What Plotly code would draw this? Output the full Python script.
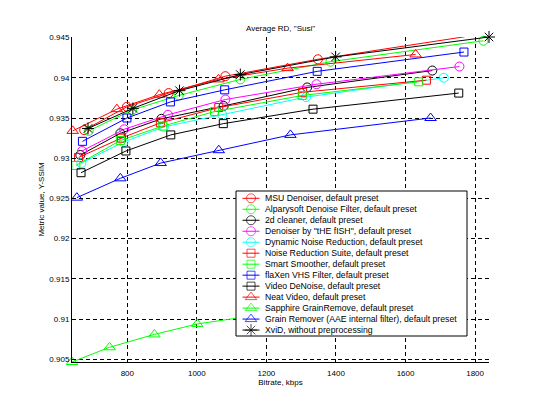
import plotly.graph_objects as go

# ---------------- data ----------------
msu_x = [676, 799, 919, 1082, 1348, 1770]
msu_y = [0.9335, 0.9364, 0.9381, 0.9402, 0.9423, 0.9451]

alpary_x = [689, 814, 948, 1125, 1384, 1824]
alpary_y = [0.9334, 0.9360, 0.9378, 0.9398, 0.9420, 0.9446]

cleaner2d_x = [665, 780, 898, 1077, 1317, 1677]
cleaner2d_y = [0.9304, 0.9331, 0.9349, 0.9365, 0.9388, 0.9409]

fish_x = [670, 791, 917, 1082, 1344, 1755]
fish_y = [0.9309, 0.9336, 0.9354, 0.9373, 0.9392, 0.9414]

dynamic_x = [668, 789, 905, 1073, 1314, 1710]
dynamic_y = [0.9294, 0.9320, 0.9339, 0.9354, 0.9376, 0.9400]

nrs_x = [660, 783, 895, 1063, 1304, 1660]
nrs_y = [0.9301, 0.9325, 0.9344, 0.9363, 0.9382, 0.9397]

smart_x = [652, 780, 902, 1051, 1303, 1638]
smart_y = [0.9291, 0.9322, 0.9340, 0.9358, 0.9378, 0.9395]

flaxen_x = [671, 799, 924, 1080, 1346, 1768]
flaxen_y = [0.9321, 0.9350, 0.9370, 0.9385, 0.9408, 0.9432]

videodn_x = [667, 796, 925, 1076, 1334, 1753]
videodn_y = [0.9282, 0.9309, 0.9329, 0.9343, 0.9361, 0.9381]

neat_x = [643, 770, 892, 1062, 1261, 1629]
neat_y = [0.9334, 0.9361, 0.9379, 0.9398, 0.9412, 0.9429]

sapphire_x = [641, 749, 878, 1001, 1190, 1500]
sapphire_y = [0.90467, 0.9065, 0.9081, 0.9094, 0.9106, 0.9120]

aae_x = [655, 780, 896, 1063, 1269, 1672]
aae_y = [0.9251, 0.9275, 0.9294, 0.9310, 0.9329, 0.9350]

xvid_x = [687, 816, 950, 1125, 1399, 1840]
xvid_y = [0.9337, 0.9362, 0.9384, 0.9404, 0.9426, 0.94507]

series_names = [
    "MSU Denoiser, default preset",
    "Alparysoft Denoise Filter, default preset",
    "2d cleaner, default preset",
    "Denoiser by \"tHE fISH\", default preset",
    "Dynamic Noise Reduction, default preset",
    "Noise Reduction Suite, default preset",
    "Smart Smoother, default preset",
    "flaXen VHS Filter, default preset",
    "Video DeNoise, default preset",
    "Neat Video, default preset",
    "Sapphire GrainRemove, default preset",
    "Grain Remover (AAE internal filter), default preset",
    "XviD, without preprocessing",
]
series_x = [msu_x, alpary_x, cleaner2d_x, fish_x, dynamic_x, nrs_x, smart_x,
            flaxen_x, videodn_x, neat_x, sapphire_x, aae_x, xvid_x]
series_y = [msu_y, alpary_y, cleaner2d_y, fish_y, dynamic_y, nrs_y, smart_y,
            flaxen_y, videodn_y, neat_y, sapphire_y, aae_y, xvid_y]
series_colors = ["#ff0000", "#00ff00", "#000000", "#ff00ff", "#00ffff",
                 "#ff0000", "#00ff00", "#0000ff", "#000000",
                 "#ff0000", "#00ff00", "#0000ff", "#000000"]
series_symbols = ["circle-open"] * 5 + ["square-open"] * 4 + \
                 ["triangle-up-open"] * 3 + ["asterisk-open"]

x_tick_vals = [800, 1000, 1200, 1400, 1600, 1800]
x_tick_text = ["800", "1000", "1200", "1400", "1600", "1800"]
y_tick_vals = [0.905, 0.91, 0.915, 0.92, 0.925, 0.93, 0.935, 0.94, 0.945]
y_tick_text = ["0.905", "0.91", "0.915", "0.92", "0.925", "0.93", "0.935", "0.94", "0.945"]

x_range = [641, 1840]
y_range = [0.90467, 0.94507]

# ---------------- layout geometry (px, in page/window coordinates) ----------------
OFF = 8                      # default body margin of the html page
WIN_W, WIN_H = 542, 398
W, H = WIN_W - OFF, WIN_H - OFF
PL, PR, PT, PB = 72, 489, 37, 362      # plot area in window coords
FONT = "Liberation Sans, Arial, sans-serif"
symbol_size = {"circle-open": 9, "square-open": 8,
               "triangle-up-open": 10, "asterisk-open": 10}


def fx(px):
    return (px - PL) / (PR - PL)


def fy(py):
    return (PB - py) / (PB - PT)


fig = go.Figure()

for name, xs, ys, col, sym in zip(series_names, series_x, series_y,
                                  series_colors, series_symbols):
    fig.add_trace(go.Scatter(
        x=xs, y=ys, mode="lines+markers", name=name, showlegend=False,
        line=dict(color=col, width=1),
        marker=dict(symbol=sym, size=symbol_size[sym], color=col,
                    line=dict(color=col, width=1)),
        cliponaxis=False,
    ))

# ---------------- manual legend (overlay axes) ----------------
box_l, box_r, box_t, box_b = 236, 467, 191, 336
fig.add_trace(go.Scatter(
    x=[fx(box_l), fx(box_r), fx(box_r), fx(box_l), fx(box_l)],
    y=[fy(box_t), fy(box_t), fy(box_b), fy(box_b), fy(box_t)],
    mode="lines", fill="toself", fillcolor="white",
    line=dict(color="black", width=1),
    xaxis="x2", yaxis="y2", showlegend=False, hoverinfo="skip",
))

first_y, step_y = 198.3, 10.98
line_l, line_m, line_r, text_x = 242.5, 251, 259.5, 263

annotations = []
for i, (name, col, sym) in enumerate(zip(series_names, series_colors, series_symbols)):
    py = first_y + i * step_y
    fig.add_trace(go.Scatter(
        x=[fx(line_l), fx(line_m), fx(line_r)], y=[fy(py)] * 3,
        mode="lines+markers", xaxis="x2", yaxis="y2", showlegend=False,
        hoverinfo="skip",
        line=dict(color=col, width=1),
        marker=dict(symbol=sym, size=[0, symbol_size[sym], 0], color=col,
                    line=dict(color=col, width=1)),
    ))
    annotations.append(dict(
        x=fx(text_x), y=fy(py), xref="x2", yref="y2", text=name,
        showarrow=False, xanchor="left", yanchor="middle",
        font=dict(family=FONT, size=8.7, color="black"),
    ))

fig.update_layout(
    width=W, height=H,
    margin=dict(l=PL - OFF, r=WIN_W - PR, t=PT - OFF, b=WIN_H - PB, pad=0,
                autoexpand=False),
    paper_bgcolor="white", plot_bgcolor="white",
    font=dict(family=FONT, size=8, color="black"),
    showlegend=False,
    title=dict(text="Average RD, \"Susi\"", x=((PL + PR) / 2 - OFF) / W, xanchor="center",
               xref="container", yref="container",
               y=1 - (28.3 - OFF) / H, yanchor="middle",
               font=dict(family=FONT, size=8, color="black")),
    xaxis=dict(range=x_range, tickvals=x_tick_vals, ticktext=x_tick_text,
               automargin=False,
               showgrid=True, gridcolor="black", griddash="4px,3px", gridwidth=1,
               zeroline=False, showline=True, linecolor="black", linewidth=1,
               ticks="inside", ticklen=3, tickcolor="black",
               tickfont=dict(size=8), ticklabelstandoff=3,
               title=dict(text="Bitrate, kbps", font=dict(size=8), standoff=2)),
    yaxis=dict(range=y_range, tickvals=y_tick_vals, ticktext=y_tick_text,
               automargin=False,
               showgrid=True, gridcolor="black", griddash="4px,3px", gridwidth=1,
               zeroline=False, showline=True, linecolor="black", linewidth=1,
               ticks="inside", ticklen=3, tickcolor="black",
               tickfont=dict(size=8),
               title=dict(text="Metric value, Y-SSIM", font=dict(size=8), standoff=3)),
    xaxis2=dict(overlaying="x", anchor="y2", range=[0, 1], visible=False,
                showgrid=False, zeroline=False),
    yaxis2=dict(overlaying="y", anchor="x2", range=[0, 1], visible=False,
                showgrid=False, zeroline=False),
    annotations=annotations,
)

fig.write_html("out.html")
